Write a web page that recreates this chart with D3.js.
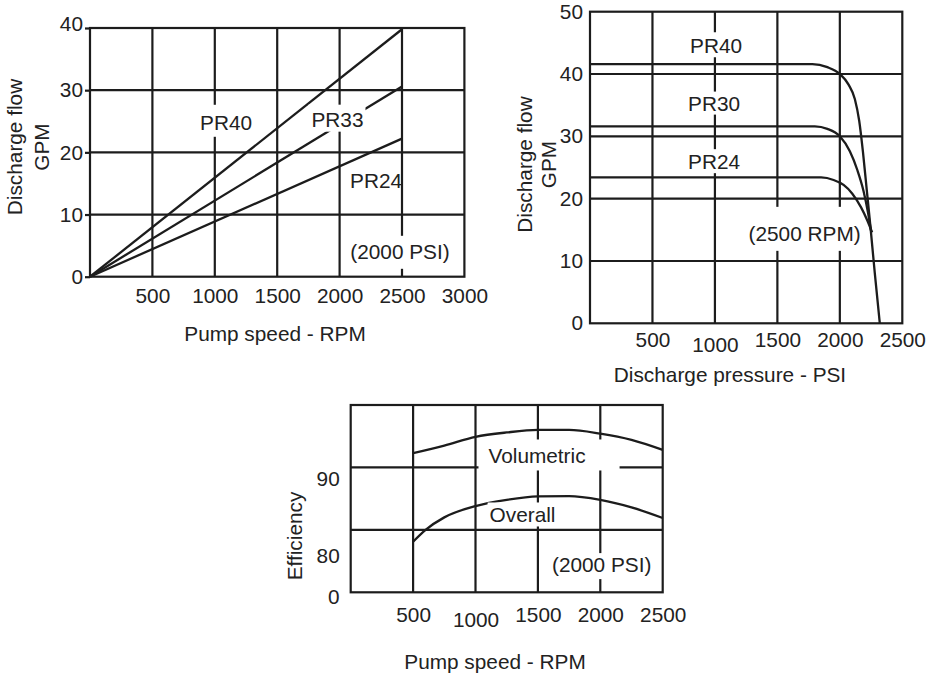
<!DOCTYPE html>
<html>
<head>
<meta charset="utf-8">
<script src="https://cdn.jsdelivr.net/npm/d3@7"></script>
<style>
  body { margin: 0; background: #fff; }
  text { font-family: "Liberation Sans", Arial, Helvetica, sans-serif; font-size: 20.8px; fill: #222; }
</style>
</head>
<body>
<svg id="chart" width="931" height="676"></svg>
<script>
// ---- panel 1: discharge flow vs pump speed
let speedTicks1 = [500, 1000, 1500, 2000, 2500, 3000];
let flowTicks1 = [0, 10, 20, 30, 40];
let flow1PR40 = [[0, 0], [2500, 39.8]];
let flow1PR33 = [[0, 0], [2500, 30.6]];
let flow1PR24 = [[0, 0], [2500, 22.2]];
let labels1 = ["PR40", "PR33", "PR24", "(2000 PSI)"];
let labelAt1 = [[1090, 24.8], [1983, 25.3], [2292, 15.5], [2484, 4.05]];

// ---- panel 2: discharge flow vs discharge pressure (2500 RPM)
let pressTicks2 = [500, 1000, 1500, 2000, 2500];
let flowTicks2 = [0, 10, 20, 30, 40, 50];
let flow2PR40 = [[0, 41.6], [1780, 41.6], [1900, 41.1], [2000, 40.0], [2070, 38.3], [2120, 36.0],
                 [2155, 32.5], [2185, 27.5], [2215, 21.5], [2245, 15.5], [2280, 8.0], [2320, 0]];
let flow2PR30 = [[0, 31.6], [1800, 31.6], [1900, 31.2], [2000, 30.0], [2080, 27.6], [2140, 24.6],
                 [2190, 21.2], [2225, 17.8], [2250, 14.8]];
let flow2PR24 = [[0, 23.4], [1850, 23.4], [1950, 23.0], [2030, 22.2], [2100, 20.8], [2170, 18.6],
                 [2220, 16.5], [2258, 14.6]];
let labels2 = ["PR40", "PR30", "PR24", "(2500 RPM)"];
let labelAt2 = [[1009, 44.5], [993, 35.3], [993, 25.9], [1718, 14.4]];

// ---- panel 3: efficiency vs pump speed
let speedTicks3 = [500, 1000, 1500, 2000, 2500];
let effTickLabels3 = ["0", "80", "90"];
let effTickAt3 = [69.2, 75.85, 88.2];
let effGrid3 = [80, 90];
let effVolumetric = [[500, 92.3], [750, 93.5], [1000, 94.9], [1250, 95.6], [1500, 96.0], [1750, 96.0],
                     [2000, 95.4], [2250, 94.4], [2500, 92.8]];
let effOverall = [[500, 78.1], [600, 80.0], [750, 82.0], [1000, 83.8], [1250, 84.8], [1500, 85.35],
                  [1750, 85.4], [2000, 84.8], [2250, 83.6], [2500, 81.9]];
let labels3 = ["Volumetric", "Overall", "(2000 PSI)"];
let labelAt3 = [[1493, 91.8], [1377, 82.35], [2011, 74.4]];

const svg = d3.select("#chart");
const ink = "#1c1c1c";

function panel(o) {
    let g = svg.append("g");
    let x = d3.scaleLinear().domain(o.xDomain).range(o.xRange);
    let y = d3.scaleLinear().domain(o.yDomain).range(o.yRange);
    let [x0, x1] = o.xRange, [y0, y1] = o.yRange;

    // grid
    g.selectAll(".vgrid").data(o.xGrid).enter().append("line")
        .attr("x1", d => x(d)).attr("x2", d => x(d))
        .attr("y1", y0).attr("y2", y1)
        .attr("stroke", ink).attr("stroke-width", 2.2);
    g.selectAll(".hgrid").data(o.yGrid).enter().append("line")
        .attr("x1", x0).attr("x2", x1)
        .attr("y1", d => y(d)).attr("y2", d => y(d))
        .attr("stroke", ink).attr("stroke-width", 2.2);
    g.append("rect")
        .attr("x", x0).attr("y", y1).attr("width", x1 - x0).attr("height", y0 - y1)
        .attr("fill", "none").attr("stroke", ink).attr("stroke-width", 2.2);

    // curves
    let line = d3.line().x(d => x(d[0])).y(d => y(d[1])).curve(d3.curveMonotoneX);
    g.selectAll(".curve").data(o.series).enter().append("path")
        .attr("d", line)
        .attr("fill", "none").attr("stroke", ink).attr("stroke-width", 2.3);

    // in-plot labels with white knock-out boxes
    o.labels.forEach((lab, i) => {
        let t = g.append("text")
            .attr("x", x(o.labelAt[i][0])).attr("y", y(o.labelAt[i][1]))
            .attr("dy", "0.35em").attr("text-anchor", "middle")
            .text(lab);
        let p = o.pads[i];
        if (p) {
            let b = t.node().getBBox();
            g.insert("rect", () => t.node())
                .attr("x", b.x - p[3]).attr("y", b.y - p[0])
                .attr("width", b.width + p[1] + p[3]).attr("height", b.height + p[0] + p[2])
                .attr("fill", "#fff");
        }
    });

    // axes
    let xa = g.append("g").attr("transform", "translate(0," + y0 + ")")
        .call(d3.axisBottom(x).tickValues(o.xTicks).tickSize(0).tickPadding(o.xPad).tickFormat(d => d));
    xa.select(".domain").remove();
    xa.attr("font-size", null).attr("font-family", null);
    if (o.lowTick) xa.selectAll("text").filter(d => d === o.lowTick).attr("dy", "0.93em");

    let ya = g.append("g").attr("transform", "translate(" + x0 + ",0)")
        .call(d3.axisLeft(y).tickValues(o.yTicks).tickSize(o.yTickSize).tickPadding(o.yPad)
            .tickFormat(o.yFormat || (d => d)));
    ya.select(".domain").remove();
    ya.attr("font-size", null).attr("font-family", null);
    ya.selectAll("line").attr("stroke", ink).attr("stroke-width", 2.2);
    if (o.topTickUp) ya.selectAll("text").filter(d => d === o.yDomain[1]).attr("dy", "0.1em");

    // titles
    g.append("text").attr("x", o.xTitleAt[0]).attr("y", o.xTitleAt[1])
        .attr("text-anchor", "middle").text(o.xTitle);
    o.yTitle.forEach((s, i) => {
        g.append("text")
            .attr("transform", "translate(" + o.yTitleX[i] + "," + o.yTitleY + ") rotate(-90)")
            .attr("text-anchor", "middle").text(s);
    });
}

panel({
    xDomain: [0, 3000], xRange: [90, 464.4],
    yDomain: [0, 40], yRange: [276.7, 28],
    xGrid: speedTicks1.slice(0, -1), yGrid: flowTicks1.slice(1, -1),
    xTicks: speedTicks1, yTicks: flowTicks1,
    xPad: 11.5, yTickSize: 5, yPad: 2, topTickUp: true,
    series: [flow1PR40, flow1PR33, flow1PR24],
    labels: labels1, labelAt: labelAt1,
    pads: [[6, 4, 3, 4], [3, 2, 1, 3], null, [4, 4, 6, 4]],
    xTitle: "Pump speed - RPM", xTitleAt: [275, 341],
    yTitle: ["Discharge flow", "GPM"], yTitleX: [22.3, 48.5], yTitleY: 147
});

panel({
    xDomain: [0, 2500], xRange: [590, 902.3],
    yDomain: [0, 50], yRange: [323.3, 11.7],
    xGrid: pressTicks2.slice(0, -1), yGrid: flowTicks2.slice(1, -1),
    xTicks: pressTicks2, yTicks: flowTicks2,
    xPad: 9, yTickSize: 0, yPad: 7, lowTick: 1000,
    series: [flow2PR40, flow2PR30, flow2PR24],
    labels: labels2, labelAt: labelAt2,
    pads: [[2, 3, 0, 3], [0, 3, 0, 3], [1, 3, 0, 3], [15, -4, 6, 2]],
    xTitle: "Discharge pressure - PSI", xTitleAt: [730, 381.5],
    yTitle: ["Discharge flow", "GPM"], yTitleX: [532, 556], yTitleY: 164.5
});

panel({
    xDomain: [0, 2500], xRange: [350.7, 662.7],
    yDomain: [70, 100], yRange: [592.3, 405],
    xGrid: speedTicks3.slice(0, -1), yGrid: effGrid3,
    xTicks: speedTicks3, yTicks: effTickAt3,
    yFormat: (d, i) => effTickLabels3[i],
    xPad: 15, yTickSize: 0, yPad: 11, lowTick: 1000,
    series: [effVolumetric, effOverall],
    labels: labels3, labelAt: labelAt3,
    pads: [[5, 34, 3, 10], [1, 2, 0, 2], [0, 2, 3, 2]],
    xTitle: "Pump speed - RPM", xTitleAt: [495, 669],
    yTitle: ["Efficiency"], yTitleX: [302], yTitleY: 536
});
</script>
</body>
</html>
